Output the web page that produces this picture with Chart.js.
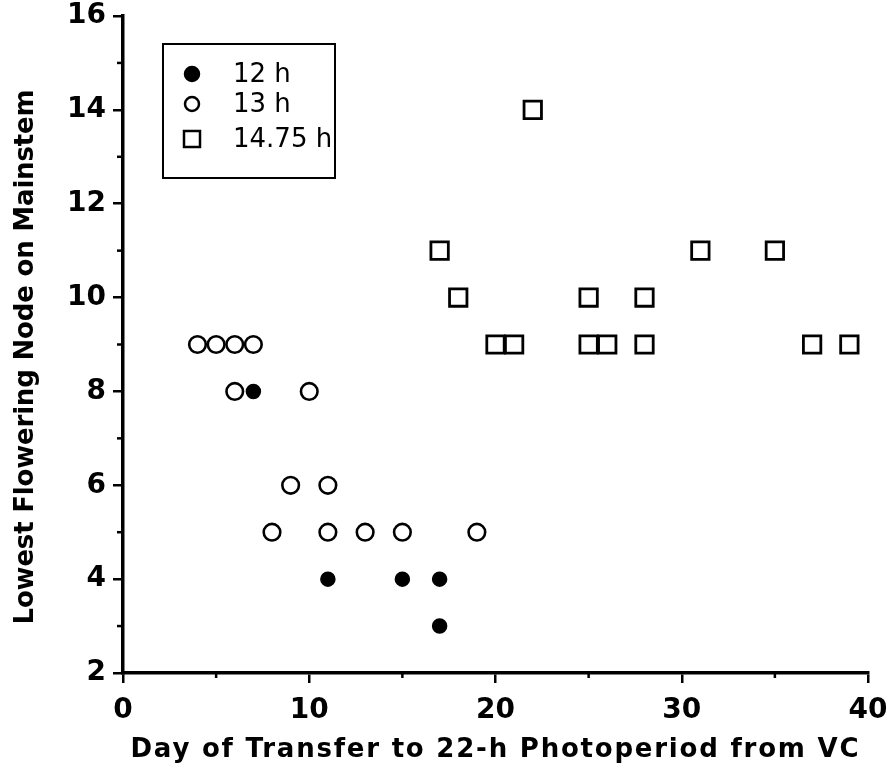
<!DOCTYPE html>
<html>
<head>
<meta charset="utf-8">
<script src="https://cdn.jsdelivr.net/npm/chart.js@4/dist/chart.umd.min.js"></script>
<style>
  html, body { margin: 0; padding: 0; background: #fff; }
  #wrap { width: 886px; height: 773px; }
</style>
</head>
<body>
<div id="wrap"><canvas id="myChart" width="886" height="773"></canvas></div>
<script>
// 12 h (filled circles)
var day12 = [7, 11, 15, 17, 17];
var node12 = [8, 4, 4, 4, 3];
// 13 h (open circles)
var day13 = [4, 5, 6, 7, 6, 10, 9, 11, 8, 11, 13, 15, 19];
var node13 = [9, 9, 9, 9, 8, 8, 6, 6, 5, 5, 5, 5, 5];
// 14.75 h (open squares)
var day1475 = [22, 17, 31, 35, 18, 25, 28, 20, 21, 25, 26, 28, 37, 39];
var node1475 = [14, 11, 11, 11, 10, 10, 10, 9, 9, 9, 9, 9, 9, 9];

var seriesLabels = ['12 h', '13 h', '14.75 h'];
var xTicks = [0, 10, 20, 30, 40];
var yTicks = [2, 4, 6, 8, 10, 12, 14, 16];
var xTitle = 'Day of Transfer to 22-h Photoperiod from VC';
var yTitle = 'Lowest Flowering Node on Mainstem';

function toPoints(xs, ys) {
  var pts = [];
  for (var i = 0; i < xs.length; i++) {
    pts.push({ x: xs[i], y: ys[i] });
  }
  return pts;
}

var ink = '#000';
var fontFam = '"DejaVu Sans", Verdana, sans-serif';

// draw a spaced-out title so it spans the wanted width
function spacedText(ctx, text, cx, cy, width) {
  ctx.letterSpacing = '0px';
  var natural = ctx.measureText(text).width;
  var sp = (width - natural) / (text.length - 1);
  ctx.letterSpacing = sp + 'px';
  var w = ctx.measureText(text).width;
  ctx.fillText(text, cx - w / 2 + sp / 2, cy);
  ctx.letterSpacing = '0px';
}

// minor ticks, axis titles and legend box inside the plot
var extras = {
  id: 'extras',
  afterDraw: function (chart) {
    var ctx = chart.ctx;
    var xs = chart.scales.x, ys = chart.scales.y;
    ctx.save();
    ctx.strokeStyle = ink;
    ctx.lineWidth = 2.5;
    // minor ticks
    for (var v = 5; v < 40; v += 10) {
      var px = xs.getPixelForValue(v);
      ctx.beginPath();
      ctx.moveTo(px, ys.bottom);
      ctx.lineTo(px, ys.bottom + 5);
      ctx.stroke();
    }
    for (var w = 3; w < 16; w += 2) {
      var py = ys.getPixelForValue(w);
      ctx.beginPath();
      ctx.moveTo(xs.left, py);
      ctx.lineTo(xs.left - 6, py);
      ctx.stroke();
    }
    // axis titles
    ctx.fillStyle = ink;
    ctx.textAlign = 'left';
    ctx.textBaseline = 'middle';
    ctx.font = 'bold 26px ' + fontFam;
    spacedText(ctx, xTitle, (xs.left + xs.right) / 2 - 1, 750, 728);
    ctx.save();
    ctx.translate(26, 357);
    ctx.rotate(-Math.PI / 2);
    ctx.font = 'bold 26px ' + fontFam;
    spacedText(ctx, yTitle, 0, 0, 535);
    ctx.restore();
    // legend
    ctx.lineWidth = 2;
    ctx.strokeRect(163, 44, 172, 134);
    ctx.font = '26px ' + fontFam;
    var rowY = [74, 104, 139];
    for (var i = 0; i < 3; i++) {
      var ds = chart.data.datasets[i];
      ctx.fillStyle = ds.backgroundColor;
      ctx.strokeStyle = ink;
      ctx.lineWidth = 2.5;
      ctx.beginPath();
      if (ds.pointStyle === 'circle') {
        ctx.arc(192, rowY[i], 7, 0, Math.PI * 2);
        ctx.fill();
        ctx.stroke();
      } else {
        ctx.rect(184, rowY[i] - 8, 16, 16);
        ctx.fill();
        ctx.stroke();
      }
      ctx.fillStyle = ink;
      ctx.textAlign = 'left';
      ctx.fillText(seriesLabels[i], 233, rowY[i] + 1);
    }
    ctx.restore();
  }
};

var ctx = document.getElementById('myChart').getContext('2d');
var myChart = new Chart(ctx, {
  type: 'scatter',
  data: {
    datasets: [{
      label: seriesLabels[0],
      data: toPoints(day12, node12),
      pointStyle: 'circle',
      pointRadius: 7,
      pointBorderWidth: 1.5,
      backgroundColor: '#000',
      borderColor: '#000'
    }, {
      label: seriesLabels[1],
      data: toPoints(day13, node13),
      pointStyle: 'circle',
      pointRadius: 8.3,
      pointBorderWidth: 2.6,
      backgroundColor: '#fff',
      borderColor: '#000'
    }, {
      label: seriesLabels[2],
      data: toPoints(day1475, node1475),
      pointStyle: 'rect',
      pointRadius: 12.3,
      pointBorderWidth: 2.8,
      backgroundColor: '#fff',
      borderColor: '#000'
    }]
  },
  options: {
    responsive: false,
    animation: false,
    layout: { padding: { top: 16, right: 18, left: 0, bottom: 0 } },
    plugins: {
      legend: { display: false },
      tooltip: { enabled: false }
    },
    scales: {
      x: {
        type: 'linear',
        min: 0,
        max: 40,
        afterBuildTicks: function (axis) {
          axis.ticks = xTicks.map(function (v) { return { value: v }; });
        },
        afterFit: function (axis) {
          axis.height = 100;
          axis.paddingLeft = 0;
          axis.paddingRight = 0;
        },
        border: { display: true, color: ink, width: 3.5 },
        grid: { drawOnChartArea: false, color: ink, lineWidth: 2.5, tickLength: 10 },
        ticks: { color: ink, font: { family: fontFam, size: 28, weight: 'bold' }, padding: 11, maxRotation: 0 }
      },
      y: {
        type: 'linear',
        min: 2,
        max: 16,
        afterBuildTicks: function (axis) {
          axis.ticks = yTicks.map(function (v) { return { value: v }; });
        },
        afterFit: function (axis) {
          axis.width = 123;
          axis.paddingTop = 0;
          axis.paddingBottom = 0;
        },
        border: { display: true, color: ink, width: 3.5 },
        grid: { drawOnChartArea: false, color: ink, lineWidth: 2.5, tickLength: 10 },
        ticks: { color: ink, font: { family: fontFam, size: 28, weight: 'bold' }, padding: 7 }
      }
    }
  },
  plugins: [extras]
});
</script>
</body>
</html>
